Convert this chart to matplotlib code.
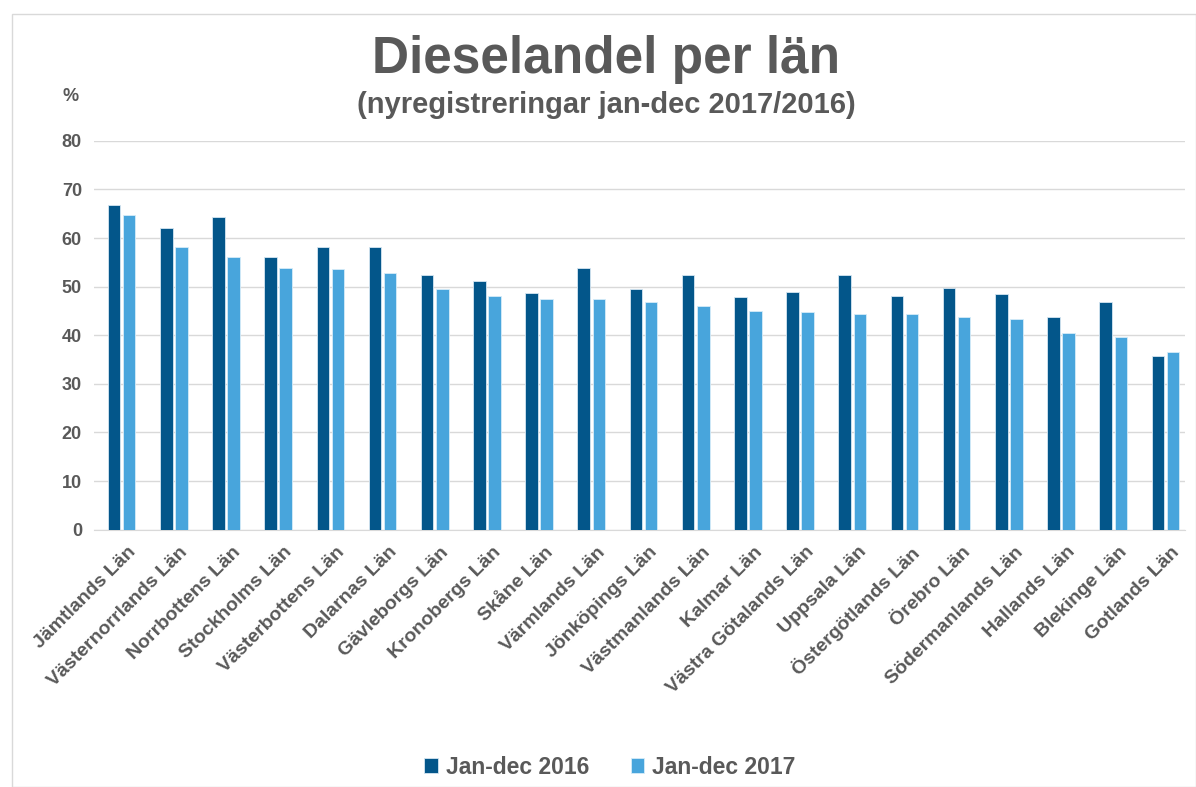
import numpy as np
import matplotlib.pyplot as plt
from matplotlib.patches import Rectangle
from matplotlib.transforms import ScaledTranslation

plt.rcParams['font.family'] = ['Liberation Sans', 'DejaVu Sans']

lan = ['Jämtlands Län', 'Västernorrlands Län', 'Norrbottens Län', 'Stockholms Län',
       'Västerbottens Län', 'Dalarnas Län', 'Gävleborgs Län', 'Kronobergs Län',
       'Skåne Län', 'Värmlands Län', 'Jönköpings Län', 'Västmanlands Län',
       'Kalmar Län', 'Västra Götalands Län', 'Uppsala Län', 'Östergötlands Län',
       'Örebro Län', 'Södermanlands Län', 'Hallands Län', 'Blekinge Län', 'Gotlands Län']
andel_2016 = [66.9, 62.1, 64.4, 56.2, 58.2, 58.2, 52.3, 51.2, 48.6, 53.9, 49.6,
              52.3, 47.9, 48.8, 52.5, 48.1, 49.8, 48.4, 43.8, 46.9, 35.8]
andel_2017 = [64.8, 58.2, 56.2, 53.9, 53.7, 52.9, 49.6, 48.1, 47.5, 47.5, 46.9,
              46.1, 44.9, 44.7, 44.4, 44.4, 43.8, 43.4, 40.5, 39.7, 36.6]

gray = '#595959'
c16 = '#03568A'
c17 = '#48A5DC'

fig = plt.figure(figsize=(11.96, 7.87), dpi=100)
# ram runt diagrammet
fig.patches.append(Rectangle((12/1196, 0), 1 - 12/1196, 1 - 14/787, transform=fig.transFigure,
                             fill=False, edgecolor='#d9d9d9', linewidth=1))
ax = fig.add_axes([0.079, 0.327, 0.912, 0.494])

x = np.arange(len(lan))
w = 0.24
ax.bar(x - 0.145, andel_2016, w, color=c16, edgecolor='#d6e6f2', linewidth=0.6, label='Jan-dec 2016', zorder=3)
ax.bar(x + 0.145, andel_2017, w, color=c17, edgecolor='#d6ecf8', linewidth=0.6, label='Jan-dec 2017', zorder=3)

ax.set_ylim(0, 80)
ax.set_xlim(-0.52, len(lan) - 0.62)
ax.set_yticks(range(0, 81, 10))
ax.grid(axis='y', color='#d9d9d9', linewidth=1, zorder=0)
for s in ['top', 'right', 'left']:
    ax.spines[s].set_visible(False)
ax.spines['bottom'].set_color('#d9d9d9')
ax.tick_params(axis='both', length=0, colors=gray, labelsize=14)
ax.tick_params(axis='y', pad=9, labelsize=13)
ax.tick_params(axis='x', pad=10)
ax.set_xticks(x)
ax.set_xticklabels(lan, rotation=45, ha='right', rotation_mode='anchor', fontweight='bold', color=gray)
# etiketterna lite åt höger som i originalet
skift = ScaledTranslation(4/72, 0, fig.dpi_scale_trans)
for t in ax.get_xticklabels():
    t.set_transform(t.get_transform() + skift)
for t in ax.get_yticklabels():
    t.set_fontweight('bold')

fig.text(0.507, 0.925, 'Dieselandel per län', ha='center', va='center', fontsize=37,
         fontweight='bold', color=gray)
fig.text(0.507, 0.867, '(nyregistreringar jan-dec 2017/2016)', ha='center', va='center',
         fontsize=21, fontweight='bold', color=gray)
fig.text(0.059, 0.877, '%', ha='center', va='center', fontsize=13, fontweight='bold', color=gray)

fig.legend(loc='center', bbox_to_anchor=(0.51, 0.025), ncol=2, frameon=False,
           handlelength=0.6, handleheight=0.6, columnspacing=1.8,
           handletextpad=0.35, labelcolor=gray, prop={'weight': 'bold', 'size': 16.5})

fig.savefig('out.png', dpi=100)
